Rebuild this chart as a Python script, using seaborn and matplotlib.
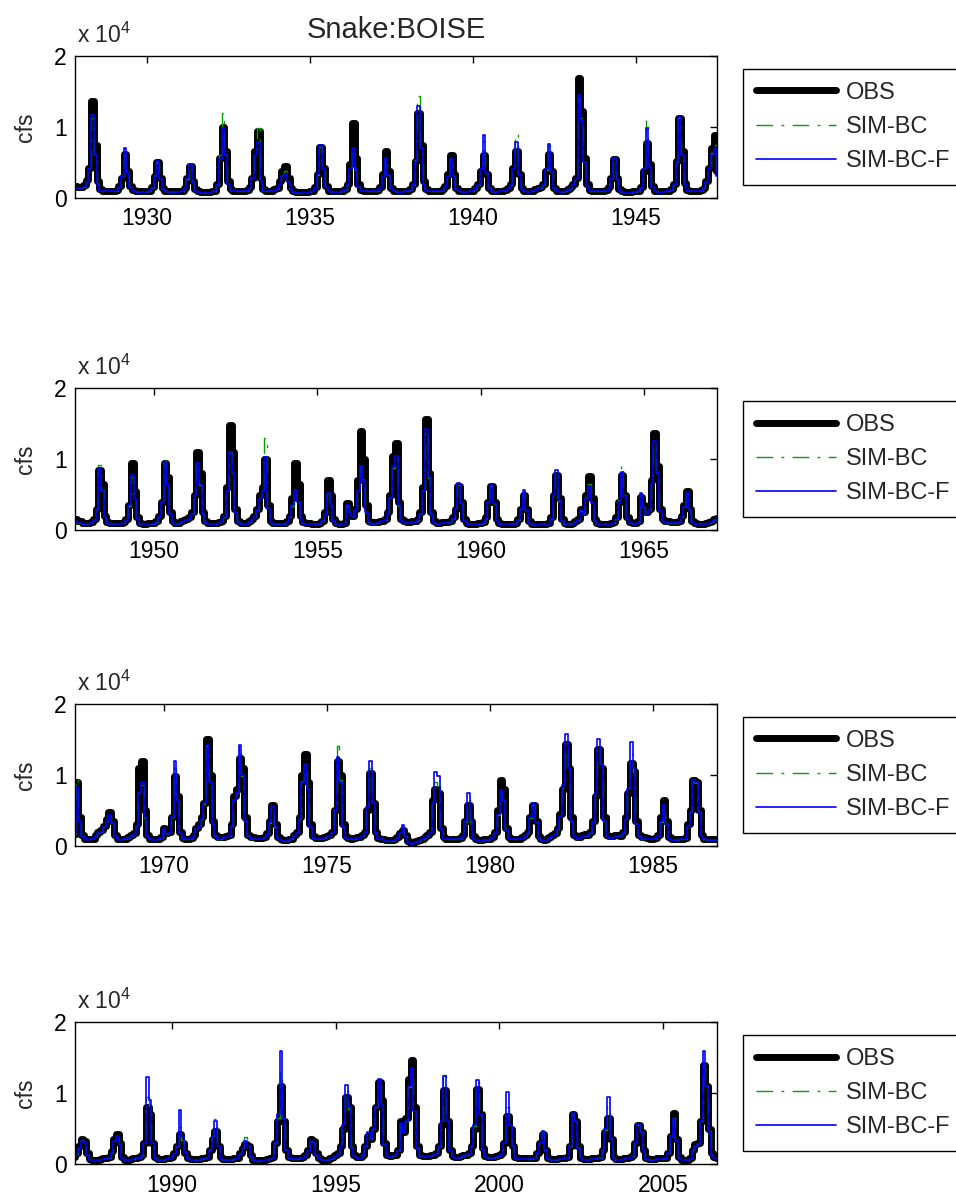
import numpy as np
import pandas as pd
import matplotlib
matplotlib.use("Agg")
import matplotlib.pyplot as plt
from matplotlib.ticker import MultipleLocator, FormatStrFormatter
import seaborn as sns

# Snake:BOISE monthly mean flow, water years 1928-2006 (Oct .. Sep), in 1000 cfs
water_years = list(range(1928, 2007))

obs = [
    [2.2, 1.6, 1.5, 1.5, 1.8, 2.5, 4.2, 13.6, 7.5, 2.4, 1.2, 1.0],   # 1928
    [1.0, 1.0, 1.0, 1.0, 1.1, 1.6, 2.8, 6.1, 3.8, 1.7, 1.1, 0.9],
    [0.9, 0.9, 0.9, 0.9, 1.0, 1.5, 3.0, 5.0, 2.8, 1.4, 1.0, 0.9],
    [0.9, 0.9, 0.9, 0.9, 1.0, 1.4, 2.8, 4.5, 2.4, 1.2, 0.9, 0.8],
    [0.8, 0.8, 0.8, 0.9, 1.0, 1.9, 5.6, 10.0, 6.6, 2.4, 1.2, 1.0],
    [1.0, 1.0, 1.0, 1.0, 1.1, 1.5, 2.8, 6.6, 9.4, 2.8, 1.2, 1.0],
    [1.0, 1.0, 1.2, 1.4, 2.4, 3.8, 4.5, 2.8, 1.4, 1.0, 0.8, 0.8],
    [0.8, 0.8, 0.8, 0.9, 1.0, 1.5, 3.3, 7.2, 4.2, 1.7, 1.0, 0.9],
    [0.9, 0.9, 0.9, 1.0, 1.2, 1.9, 4.7, 10.5, 5.6, 1.9, 1.1, 1.0],
    [1.0, 1.0, 1.0, 1.0, 1.1, 1.5, 3.3, 6.6, 3.8, 1.4, 1.0, 0.9],
    [0.9, 0.9, 1.0, 1.0, 1.2, 1.9, 5.2, 12.0, 7.5, 2.4, 1.2, 1.0],   # 1938
    [1.0, 1.0, 1.0, 1.0, 1.2, 1.7, 3.3, 6.0, 3.3, 1.4, 1.0, 0.9],
    [0.9, 0.9, 1.0, 1.0, 1.3, 1.9, 3.8, 6.0, 3.3, 1.4, 1.0, 0.9],
    [0.9, 1.0, 1.0, 1.1, 1.3, 1.9, 4.2, 6.6, 3.3, 1.4, 1.0, 0.9],
    [0.9, 1.0, 1.2, 1.4, 1.5, 1.9, 3.8, 6.1, 3.8, 1.4, 1.0, 0.9],
    [0.9, 1.0, 1.2, 1.5, 2.0, 2.8, 16.9, 12.2, 5.6, 1.9, 1.1, 1.0],
    [1.0, 1.0, 1.0, 1.0, 1.1, 1.5, 2.8, 5.4, 2.8, 1.2, 0.9, 0.8],
    [0.8, 0.8, 0.9, 0.9, 1.0, 1.5, 3.8, 7.7, 4.7, 1.7, 1.0, 0.9],
    [0.9, 0.9, 1.0, 1.0, 1.2, 1.9, 5.2, 11.3, 6.6, 2.1, 1.1, 1.0],
    [1.0, 1.0, 1.0, 1.1, 1.4, 2.4, 4.2, 7.0, 8.9, 3.8, 1.5, 1.2],
    [1.2, 1.0, 1.0, 1.0, 1.1, 1.5, 3.0, 8.5, 6.5, 2.0, 1.1, 1.0],    # 1948
    [1.0, 1.0, 1.0, 1.0, 1.1, 1.5, 3.5, 9.5, 5.5, 1.8, 1.0, 0.9],
    [0.9, 1.0, 1.0, 1.0, 1.2, 2.0, 4.0, 9.5, 7.5, 2.5, 1.2, 1.0],
    [1.0, 1.2, 1.4, 1.5, 1.8, 2.5, 5.0, 11.0, 8.0, 2.5, 1.2, 1.0],
    [1.0, 1.0, 1.0, 1.1, 1.3, 2.0, 6.0, 14.8, 11.0, 3.0, 1.3, 1.0],
    [1.0, 1.0, 1.2, 1.5, 2.0, 3.0, 5.0, 6.0, 10.0, 3.5, 1.3, 1.0],
    [1.0, 1.0, 1.0, 1.0, 1.2, 2.0, 4.5, 9.5, 6.5, 2.0, 1.1, 1.0],
    [1.0, 0.9, 0.9, 0.9, 1.0, 1.3, 2.5, 7.0, 5.0, 1.5, 1.0, 0.9],
    [0.9, 1.0, 3.8, 3.0, 2.0, 3.0, 7.0, 14.0, 10.0, 3.5, 1.3, 1.1],
    [1.1, 1.1, 1.2, 1.3, 1.5, 2.5, 5.0, 10.5, 12.3, 4.0, 1.5, 1.2],
    [1.1, 1.1, 1.2, 1.2, 1.5, 2.5, 6.0, 15.6, 8.0, 2.5, 1.2, 1.0],   # 1958
    [1.0, 1.1, 1.1, 1.1, 1.2, 1.8, 3.0, 6.2, 4.0, 1.5, 1.0, 0.9],
    [0.9, 0.9, 1.0, 1.0, 1.1, 1.8, 4.0, 6.2, 4.0, 1.5, 1.0, 0.9],
    [0.9, 0.9, 0.9, 0.9, 1.0, 1.5, 3.0, 5.0, 3.0, 1.2, 0.9, 0.8],
    [0.8, 0.9, 0.9, 0.9, 1.0, 1.8, 5.0, 7.8, 4.5, 1.5, 1.0, 0.9],
    [0.9, 1.0, 1.2, 1.5, 3.0, 2.5, 5.0, 7.6, 4.5, 1.5, 1.0, 0.9],
    [0.9, 0.9, 0.9, 1.0, 1.1, 1.8, 4.0, 7.8, 5.0, 1.8, 1.1, 1.0],
    [1.0, 1.2, 4.7, 3.5, 2.5, 3.0, 7.0, 13.7, 9.0, 3.0, 1.5, 1.2],
    [1.2, 1.1, 1.1, 1.1, 1.2, 2.0, 3.5, 5.5, 3.0, 1.3, 1.0, 0.9],
    [0.9, 0.9, 1.0, 1.1, 1.2, 1.5, 1.7, 9.0, 4.0, 1.5, 1.0, 0.9],
    [1.0, 1.0, 1.5, 2.0, 2.2, 2.8, 3.8, 4.7, 3.5, 1.5, 1.0, 0.9],    # 1968
    [1.0, 1.0, 1.2, 1.5, 1.8, 3.0, 11.0, 12.0, 5.0, 1.5, 1.0, 0.9],
    [0.9, 1.0, 1.2, 2.5, 1.8, 2.0, 4.0, 9.8, 7.0, 2.0, 1.1, 1.0],
    [1.0, 1.1, 1.5, 2.5, 3.0, 4.0, 6.0, 15.0, 10.0, 3.5, 1.5, 1.2],
    [1.2, 1.2, 1.3, 1.5, 3.0, 7.0, 8.0, 12.4, 11.0, 4.0, 1.5, 1.2],
    [1.2, 1.1, 1.1, 1.1, 1.2, 1.8, 3.5, 5.7, 3.0, 1.2, 0.9, 0.8],
    [0.8, 0.9, 1.0, 1.5, 2.0, 4.0, 10.0, 13.0, 9.0, 3.0, 1.3, 1.1],
    [1.1, 1.1, 1.2, 1.3, 1.5, 2.0, 5.0, 12.0, 10.0, 3.0, 1.3, 1.1],
    [1.0, 1.1, 1.2, 1.2, 1.5, 2.0, 5.0, 10.3, 6.0, 2.0, 1.1, 1.0],
    [0.9, 0.8, 0.8, 0.8, 0.9, 1.2, 1.8, 2.2, 1.5, 0.6, 0.4, 0.5],
    [0.6, 0.8, 1.0, 1.2, 1.5, 2.0, 6.5, 8.0, 7.5, 2.5, 1.2, 1.0],    # 1978
    [1.0, 1.0, 1.0, 1.0, 1.1, 1.5, 3.5, 5.8, 3.5, 1.3, 0.9, 0.8],
    [0.8, 0.9, 0.9, 1.0, 1.2, 2.0, 5.0, 9.3, 8.0, 2.5, 1.2, 1.0],
    [1.0, 1.0, 1.0, 1.2, 1.5, 2.0, 4.0, 5.7, 3.5, 1.3, 0.9, 0.8],
    [0.9, 1.2, 1.5, 1.8, 2.5, 4.5, 8.0, 14.3, 11.0, 4.0, 1.5, 1.2],
    [1.2, 1.5, 1.6, 1.5, 2.0, 3.5, 7.0, 13.6, 11.0, 4.0, 1.5, 1.3],
    [1.3, 1.5, 1.5, 1.4, 2.0, 4.0, 7.5, 11.7, 10.5, 3.5, 1.5, 1.2],
    [1.2, 1.1, 1.0, 1.0, 1.1, 1.5, 4.0, 6.5, 3.5, 1.2, 0.9, 0.9],
    [0.9, 1.0, 1.0, 1.1, 3.0, 5.0, 9.2, 9.0, 5.0, 1.5, 1.0, 0.9],
    [0.9, 0.9, 0.9, 1.0, 1.5, 2.5, 3.5, 3.3, 1.5, 0.7, 0.6, 0.6],
    [0.6, 0.7, 0.8, 0.9, 1.0, 1.8, 3.5, 4.2, 3.0, 1.0, 0.6, 0.6],    # 1988
    [0.7, 0.8, 0.9, 1.0, 1.2, 3.0, 8.0, 7.0, 3.0, 1.0, 0.7, 0.7],
    [0.7, 0.8, 0.9, 1.0, 1.5, 2.5, 4.2, 3.0, 1.5, 0.8, 0.7, 0.7],
    [0.7, 0.7, 0.8, 0.9, 1.0, 2.0, 3.5, 4.6, 2.5, 1.0, 0.7, 0.7],
    [0.7, 0.7, 0.8, 0.9, 1.5, 2.3, 2.8, 2.5, 1.2, 0.6, 0.5, 0.5],
    [0.5, 0.6, 0.7, 0.8, 1.0, 3.0, 6.0, 11.0, 6.0, 2.0, 1.0, 0.8],
    [0.8, 0.8, 0.9, 1.0, 1.2, 2.0, 3.5, 3.3, 1.5, 0.8, 0.6, 0.6],
    [0.6, 0.8, 1.0, 1.2, 1.5, 2.5, 5.0, 9.5, 8.0, 2.5, 1.2, 1.0],
    [1.0, 1.3, 2.5, 4.0, 3.5, 5.0, 8.0, 11.5, 9.0, 3.0, 1.3, 1.1],
    [1.2, 1.3, 2.0, 6.0, 4.5, 6.5, 12.0, 14.6, 8.0, 2.5, 1.3, 1.1],
    [1.1, 1.1, 1.2, 1.3, 1.5, 2.5, 5.5, 10.4, 6.0, 2.0, 1.1, 1.0],   # 1998
    [1.0, 1.1, 1.2, 1.3, 1.5, 2.5, 5.0, 10.6, 7.0, 2.2, 1.1, 1.0],
    [1.0, 1.0, 1.1, 1.2, 1.5, 3.0, 6.7, 5.0, 2.5, 1.0, 0.8, 0.8],
    [0.8, 0.8, 0.8, 0.8, 0.9, 1.5, 3.0, 4.2, 2.0, 0.8, 0.7, 0.7],
    [0.7, 0.8, 0.8, 0.9, 1.0, 2.5, 7.0, 6.0, 2.5, 0.9, 0.7, 0.7],
    [0.7, 0.8, 0.8, 0.9, 1.0, 2.0, 4.5, 6.5, 3.5, 1.0, 0.7, 0.7],
    [0.7, 0.8, 0.9, 1.0, 1.2, 3.0, 5.5, 4.5, 2.0, 0.8, 0.7, 0.7],
    [0.7, 0.8, 0.8, 0.8, 0.9, 1.5, 4.0, 7.2, 3.5, 1.0, 0.6, 0.5],
    [0.5, 0.8, 2.0, 2.8, 3.0, 6.0, 14.0, 11.0, 5.0, 1.5, 1.0, 0.9],  # 2006
]

sim_bc = [
    [1.8, 1.4, 1.3, 1.3, 1.5, 2.2, 4.0, 11.3, 6.0, 2.0, 1.0, 0.9],   # 1928
    [0.9, 0.9, 0.9, 0.9, 1.0, 1.5, 2.8, 6.1, 3.3, 1.5, 1.0, 0.8],
    [0.8, 0.8, 0.8, 0.8, 0.9, 1.4, 2.9, 5.0, 2.6, 1.2, 0.9, 0.8],
    [0.8, 0.8, 0.8, 0.8, 0.9, 1.3, 2.7, 4.5, 2.2, 1.0, 0.8, 0.7],
    [0.7, 0.7, 0.7, 0.8, 0.9, 1.8, 6.0, 11.9, 6.5, 2.0, 1.0, 0.9],
    [0.9, 0.9, 0.9, 0.9, 1.0, 1.4, 2.8, 6.8, 9.9, 2.6, 1.0, 0.9],
    [0.9, 0.9, 1.0, 1.2, 2.1, 3.2, 3.8, 2.4, 1.2, 0.8, 0.7, 0.7],
    [0.7, 0.7, 0.7, 0.8, 0.9, 1.4, 3.2, 7.2, 3.9, 1.5, 0.9, 0.8],
    [0.8, 0.8, 0.8, 0.9, 1.1, 1.8, 3.9, 6.8, 3.9, 1.5, 1.0, 0.9],
    [0.9, 0.9, 0.9, 0.9, 1.0, 1.4, 3.0, 5.6, 3.2, 1.2, 0.9, 0.8],
    [0.8, 0.8, 0.9, 0.9, 1.1, 1.8, 5.3, 14.3, 7.2, 2.0, 1.0, 0.9],   # 1938
    [0.9, 0.9, 0.9, 0.9, 1.1, 1.6, 3.1, 5.6, 3.0, 1.2, 0.9, 0.8],
    [0.8, 0.8, 0.9, 0.9, 1.2, 1.8, 3.8, 8.0, 3.4, 1.3, 0.9, 0.8],
    [0.8, 0.9, 0.9, 1.0, 1.2, 1.8, 4.3, 9.0, 3.4, 1.2, 0.9, 0.8],
    [0.8, 0.9, 1.1, 1.3, 1.4, 1.8, 3.9, 7.3, 3.7, 1.3, 0.9, 0.8],
    [0.8, 0.9, 1.1, 1.4, 1.8, 2.6, 14.1, 11.2, 5.0, 1.7, 1.0, 0.9],
    [0.9, 0.9, 0.9, 0.9, 1.0, 1.4, 2.8, 5.6, 2.6, 1.1, 0.8, 0.7],
    [0.7, 0.7, 0.8, 0.8, 0.9, 1.4, 4.2, 10.9, 4.6, 1.5, 0.9, 0.8],
    [0.8, 0.8, 0.9, 0.9, 1.1, 1.8, 5.0, 11.3, 6.1, 1.9, 1.0, 0.9],
    [0.9, 0.9, 0.9, 1.0, 1.3, 2.2, 4.0, 6.3, 7.5, 3.1, 1.3, 1.0],
    [1.0, 0.9, 0.9, 0.9, 1.0, 1.4, 3.0, 9.2, 5.6, 1.8, 1.0, 0.9],    # 1948
    [0.9, 0.9, 0.9, 0.9, 1.0, 1.4, 3.4, 7.5, 4.4, 1.6, 0.9, 0.8],
    [0.8, 0.9, 0.9, 0.9, 1.1, 1.8, 4.1, 9.8, 6.6, 2.2, 1.0, 0.9],
    [0.9, 1.1, 1.3, 1.4, 1.6, 2.3, 5.0, 9.5, 6.4, 2.2, 1.0, 0.9],
    [0.9, 0.9, 0.9, 1.0, 1.2, 1.8, 5.4, 11.0, 8.1, 2.5, 1.1, 0.9],
    [0.9, 0.9, 1.1, 1.4, 1.8, 2.8, 4.6, 5.8, 13.0, 3.1, 1.1, 0.9],
    [0.9, 0.9, 0.9, 0.9, 1.1, 1.8, 3.4, 5.5, 4.1, 1.5, 0.9, 0.8],
    [0.8, 0.8, 0.8, 0.8, 0.9, 1.2, 2.1, 5.2, 3.4, 1.2, 0.8, 0.7],
    [0.8, 0.9, 3.4, 2.6, 1.8, 2.7, 5.4, 9.0, 7.2, 2.5, 1.1, 0.9],
    [0.9, 1.0, 1.1, 1.2, 1.4, 2.2, 4.6, 8.8, 10.0, 3.4, 1.3, 1.0],
    [1.0, 1.0, 1.1, 1.1, 1.4, 2.3, 5.6, 14.0, 7.3, 2.2, 1.0, 0.9],   # 1958
    [0.9, 1.0, 1.0, 1.0, 1.1, 1.6, 2.9, 6.3, 3.7, 1.3, 0.9, 0.8],
    [0.8, 0.8, 0.9, 0.9, 1.0, 1.6, 3.9, 6.2, 3.7, 1.3, 0.9, 0.8],
    [0.8, 0.8, 0.8, 0.8, 0.9, 1.4, 2.9, 5.2, 2.7, 1.0, 0.8, 0.7],
    [0.7, 0.8, 0.8, 0.8, 0.9, 1.6, 5.1, 8.3, 4.1, 1.3, 0.9, 0.8],
    [0.8, 0.9, 1.1, 1.4, 2.7, 2.3, 4.7, 6.5, 3.9, 1.3, 0.9, 0.8],
    [0.8, 0.8, 0.8, 0.9, 1.0, 1.6, 4.2, 9.2, 4.9, 1.6, 1.0, 0.9],
    [0.9, 1.1, 5.0, 3.3, 2.3, 2.8, 6.6, 12.0, 8.1, 2.7, 1.3, 1.0],
    [1.0, 1.0, 1.0, 1.0, 1.1, 1.8, 3.3, 5.2, 2.8, 1.1, 0.9, 0.8],
    [0.8, 0.8, 0.9, 1.0, 1.1, 1.4, 1.7, 9.5, 3.7, 1.3, 0.9, 0.8],
    [0.9, 0.9, 1.4, 1.8, 2.0, 2.6, 3.5, 4.3, 3.2, 1.3, 0.9, 0.8],    # 1968
    [0.9, 0.9, 1.1, 1.4, 1.6, 2.8, 7.4, 8.5, 3.9, 1.3, 0.9, 0.8],
    [0.8, 0.9, 1.1, 2.3, 1.6, 1.8, 4.0, 11.5, 6.4, 1.8, 1.0, 0.9],
    [0.9, 1.0, 1.4, 2.3, 2.8, 3.8, 5.9, 14.0, 8.8, 3.0, 1.3, 1.0],
    [1.0, 1.1, 1.2, 1.4, 2.8, 6.4, 7.4, 14.0, 9.9, 3.5, 1.3, 1.0],
    [1.0, 1.0, 1.0, 1.0, 1.1, 1.6, 3.2, 5.3, 2.7, 1.0, 0.8, 0.7],
    [0.7, 0.8, 0.9, 1.4, 1.8, 3.8, 9.1, 11.5, 8.0, 2.7, 1.1, 0.9],
    [1.0, 1.0, 1.1, 1.2, 1.4, 1.8, 5.2, 14.0, 9.3, 2.7, 1.1, 1.0],
    [0.9, 1.0, 1.1, 1.1, 1.4, 1.8, 5.3, 11.0, 5.8, 1.8, 1.0, 0.9],
    [0.8, 0.7, 0.7, 0.7, 0.8, 1.1, 1.7, 2.5, 1.4, 0.5, 0.3, 0.4],
    [0.5, 0.7, 0.9, 1.1, 1.4, 1.8, 6.0, 9.0, 8.4, 2.3, 1.0, 0.9],    # 1978
    [0.9, 0.9, 0.9, 0.9, 1.0, 1.4, 3.4, 6.5, 3.4, 1.1, 0.8, 0.7],
    [0.7, 0.8, 0.8, 0.9, 1.1, 1.8, 4.4, 7.5, 6.4, 2.2, 1.0, 0.9],
    [0.9, 0.9, 0.9, 1.1, 1.4, 1.8, 3.9, 5.8, 3.3, 1.1, 0.8, 0.7],
    [0.8, 1.1, 1.4, 1.6, 2.3, 4.2, 8.1, 14.5, 10.6, 3.5, 1.3, 1.0],
    [1.0, 1.3, 1.4, 1.4, 1.8, 3.3, 7.2, 14.0, 11.0, 3.5, 1.3, 1.1],
    [1.1, 1.3, 1.4, 1.3, 1.8, 3.8, 7.6, 13.0, 10.4, 3.0, 1.3, 1.0],
    [1.0, 1.0, 0.9, 0.9, 1.0, 1.4, 3.4, 5.5, 3.0, 1.0, 0.8, 0.8],
    [0.8, 0.9, 0.9, 1.0, 2.8, 4.7, 9.0, 8.8, 4.7, 1.3, 0.9, 0.8],
    [0.8, 0.8, 0.8, 0.9, 1.4, 2.3, 3.4, 3.1, 1.3, 0.6, 0.5, 0.5],
    [0.5, 0.6, 0.7, 0.8, 0.9, 1.6, 3.3, 4.0, 2.8, 0.9, 0.5, 0.5],    # 1988
    [0.6, 0.7, 0.8, 0.9, 1.1, 3.0, 9.4, 7.8, 3.0, 0.9, 0.6, 0.6],
    [0.6, 0.7, 0.8, 0.9, 1.4, 2.5, 5.2, 3.4, 1.5, 0.7, 0.6, 0.6],
    [0.6, 0.6, 0.7, 0.8, 0.9, 2.0, 4.0, 6.4, 2.5, 0.9, 0.6, 0.6],
    [0.6, 0.6, 0.7, 0.8, 1.4, 2.3, 3.8, 2.6, 1.1, 0.5, 0.4, 0.4],
    [0.4, 0.5, 0.6, 0.7, 0.9, 3.0, 6.5, 13.0, 6.5, 2.0, 0.9, 0.7],
    [0.7, 0.7, 0.8, 0.9, 1.1, 1.8, 3.3, 3.1, 1.3, 0.7, 0.5, 0.5],
    [0.5, 0.7, 0.9, 1.1, 1.4, 2.5, 5.2, 10.5, 7.8, 2.3, 1.1, 0.9],
    [0.9, 1.2, 2.5, 4.3, 3.5, 5.0, 8.0, 11.5, 8.5, 2.7, 1.1, 1.0],
    [1.1, 1.2, 1.8, 5.9, 4.3, 6.0, 10.8, 13.0, 7.5, 2.2, 1.1, 1.0],
    [1.0, 1.0, 1.1, 1.2, 1.4, 2.5, 6.0, 12.5, 6.0, 1.8, 1.0, 0.9],   # 1998
    [0.9, 1.0, 1.1, 1.2, 1.4, 2.5, 5.3, 11.5, 7.0, 2.0, 1.0, 0.9],
    [0.9, 0.9, 1.0, 1.1, 1.4, 3.0, 8.0, 5.3, 2.5, 0.9, 0.7, 0.7],
    [0.7, 0.7, 0.7, 0.7, 0.8, 1.5, 3.0, 4.5, 2.0, 0.7, 0.6, 0.6],
    [0.6, 0.7, 0.7, 0.8, 0.9, 2.5, 7.0, 6.0, 2.3, 0.8, 0.6, 0.6],
    [0.6, 0.7, 0.7, 0.8, 0.9, 2.0, 4.8, 8.0, 3.5, 0.9, 0.6, 0.6],
    [0.6, 0.7, 0.8, 0.9, 1.1, 3.0, 5.5, 4.5, 1.8, 0.7, 0.6, 0.6],
    [0.6, 0.7, 0.7, 0.7, 0.8, 1.5, 4.0, 6.5, 3.3, 0.9, 0.5, 0.5],
    [0.5, 0.7, 2.0, 2.6, 2.8, 6.0, 14.5, 11.0, 4.6, 1.3, 0.9, 0.8],  # 2006
]

sim_bcf = [
    [1.8, 1.4, 1.3, 1.3, 1.5, 2.2, 4.0, 11.7, 6.0, 2.0, 1.0, 0.9],   # 1928
    [0.9, 0.9, 0.9, 0.9, 1.0, 1.5, 3.0, 7.0, 3.5, 1.5, 1.0, 0.8],
    [0.8, 0.8, 0.8, 0.8, 0.9, 1.4, 3.0, 5.2, 2.6, 1.2, 0.9, 0.8],
    [0.8, 0.8, 0.8, 0.8, 0.9, 1.3, 2.8, 4.7, 2.2, 1.0, 0.8, 0.7],
    [0.7, 0.7, 0.7, 0.8, 0.9, 1.8, 5.5, 9.9, 6.0, 2.0, 1.0, 0.9],
    [0.9, 0.9, 0.9, 0.9, 1.0, 1.4, 2.8, 6.0, 7.8, 2.4, 1.0, 0.9],
    [0.9, 0.9, 1.0, 1.2, 2.0, 3.0, 3.3, 2.2, 1.2, 0.8, 0.7, 0.7],
    [0.7, 0.7, 0.7, 0.8, 0.9, 1.4, 3.3, 7.5, 4.0, 1.5, 0.9, 0.8],
    [0.8, 0.8, 0.8, 0.9, 1.1, 1.8, 4.0, 7.0, 4.0, 1.5, 1.0, 0.9],
    [0.9, 0.9, 0.9, 0.9, 1.0, 1.4, 3.0, 5.6, 3.2, 1.2, 0.9, 0.8],
    [0.8, 0.8, 0.9, 0.9, 1.1, 1.8, 5.0, 13.0, 7.0, 2.0, 1.0, 0.9],   # 1938
    [0.9, 0.9, 0.9, 0.9, 1.1, 1.6, 3.0, 5.4, 3.0, 1.2, 0.9, 0.8],
    [0.8, 0.8, 0.9, 0.9, 1.2, 1.8, 4.0, 8.9, 3.5, 1.3, 0.9, 0.8],
    [0.8, 0.9, 0.9, 1.0, 1.2, 1.8, 4.0, 7.9, 3.2, 1.2, 0.9, 0.8],
    [0.8, 0.9, 1.1, 1.3, 1.4, 1.8, 4.0, 7.6, 3.8, 1.3, 0.9, 0.8],
    [0.8, 0.9, 1.1, 1.4, 1.8, 2.6, 14.5, 11.0, 5.0, 1.7, 1.0, 0.9],
    [0.9, 0.9, 0.9, 0.9, 1.0, 1.4, 2.8, 5.6, 2.6, 1.1, 0.8, 0.7],
    [0.7, 0.7, 0.8, 0.8, 0.9, 1.4, 4.0, 9.8, 4.5, 1.5, 0.9, 0.8],
    [0.8, 0.8, 0.9, 0.9, 1.1, 1.8, 5.0, 11.4, 6.0, 1.9, 1.0, 0.9],
    [0.9, 0.9, 0.9, 1.0, 1.3, 2.2, 4.0, 6.0, 7.0, 3.0, 1.3, 1.0],
    [1.0, 0.9, 0.9, 0.9, 1.0, 1.4, 3.0, 8.7, 5.5, 1.8, 1.0, 0.9],    # 1948
    [0.9, 0.9, 0.9, 0.9, 1.0, 1.4, 3.5, 7.8, 4.5, 1.6, 0.9, 0.8],
    [0.8, 0.9, 0.9, 0.9, 1.1, 1.8, 4.0, 9.6, 6.5, 2.2, 1.0, 0.9],
    [0.9, 1.1, 1.3, 1.4, 1.6, 2.3, 5.0, 9.5, 6.5, 2.2, 1.0, 0.9],
    [0.9, 0.9, 0.9, 1.0, 1.2, 1.8, 5.5, 11.0, 8.0, 2.5, 1.1, 0.9],
    [0.9, 0.9, 1.1, 1.4, 1.8, 2.8, 4.5, 5.5, 10.3, 3.0, 1.1, 0.9],
    [0.9, 0.9, 0.9, 0.9, 1.1, 1.8, 3.5, 5.6, 4.0, 1.5, 0.9, 0.8],
    [0.8, 0.8, 0.8, 0.8, 0.9, 1.2, 2.2, 5.2, 3.5, 1.2, 0.8, 0.7],
    [0.8, 0.9, 3.5, 2.5, 1.8, 2.8, 5.5, 9.0, 7.0, 2.5, 1.1, 0.9],
    [0.9, 1.0, 1.1, 1.2, 1.4, 2.2, 4.5, 9.0, 10.5, 3.5, 1.3, 1.0],
    [1.0, 1.0, 1.1, 1.1, 1.4, 2.3, 5.5, 14.3, 7.5, 2.2, 1.0, 0.9],   # 1958
    [0.9, 1.0, 1.0, 1.0, 1.1, 1.6, 3.0, 6.6, 3.8, 1.3, 0.9, 0.8],
    [0.8, 0.8, 0.9, 0.9, 1.0, 1.6, 4.0, 6.3, 3.8, 1.3, 0.9, 0.8],
    [0.8, 0.8, 0.8, 0.8, 0.9, 1.4, 3.0, 5.6, 2.8, 1.0, 0.8, 0.7],
    [0.7, 0.8, 0.8, 0.8, 0.9, 1.6, 5.0, 8.5, 4.2, 1.3, 0.9, 0.8],
    [0.8, 0.9, 1.1, 1.4, 2.8, 2.3, 4.5, 6.2, 3.8, 1.3, 0.9, 0.8],
    [0.8, 0.8, 0.8, 0.9, 1.0, 1.6, 4.0, 8.2, 4.8, 1.6, 1.0, 0.9],
    [0.9, 1.1, 5.2, 3.2, 2.3, 2.8, 6.5, 12.5, 8.0, 2.7, 1.3, 1.0],
    [1.0, 1.0, 1.0, 1.0, 1.1, 1.8, 3.3, 5.2, 2.8, 1.1, 0.9, 0.8],
    [0.8, 0.8, 0.9, 1.0, 1.1, 1.4, 1.7, 8.3, 3.5, 1.3, 0.9, 0.8],
    [0.9, 0.9, 1.4, 1.8, 2.0, 2.6, 3.5, 4.3, 3.2, 1.3, 0.9, 0.8],    # 1968
    [0.9, 0.9, 1.1, 1.4, 1.6, 2.8, 7.5, 9.0, 4.0, 1.3, 0.9, 0.8],
    [0.8, 0.9, 1.1, 2.3, 1.6, 1.8, 4.0, 12.0, 6.5, 1.8, 1.0, 0.9],
    [0.9, 1.0, 1.4, 2.3, 2.8, 3.8, 6.0, 14.2, 9.0, 3.0, 1.3, 1.0],
    [1.0, 1.1, 1.2, 1.4, 2.8, 6.5, 7.5, 14.2, 10.0, 3.5, 1.3, 1.0],
    [1.0, 1.0, 1.0, 1.0, 1.1, 1.6, 3.3, 5.5, 2.8, 1.0, 0.8, 0.7],
    [0.7, 0.8, 0.9, 1.4, 1.8, 3.8, 9.0, 11.4, 8.0, 2.7, 1.1, 0.9],
    [1.0, 1.0, 1.1, 1.2, 1.4, 1.8, 5.0, 12.5, 9.0, 2.7, 1.1, 1.0],
    [0.9, 1.0, 1.1, 1.1, 1.4, 1.8, 5.5, 12.0, 6.0, 1.8, 1.0, 0.9],
    [0.8, 0.7, 0.7, 0.7, 0.8, 1.1, 1.8, 2.9, 1.4, 0.5, 0.3, 0.4],
    [0.5, 0.7, 0.9, 1.1, 1.4, 1.8, 6.0, 10.4, 9.8, 2.3, 1.0, 0.9],   # 1978
    [0.9, 0.9, 0.9, 0.9, 1.0, 1.4, 3.5, 7.4, 3.5, 1.1, 0.8, 0.7],
    [0.7, 0.8, 0.8, 0.9, 1.1, 1.8, 4.5, 7.8, 6.5, 2.2, 1.0, 0.9],
    [0.9, 0.9, 0.9, 1.1, 1.4, 1.8, 4.0, 6.0, 3.3, 1.1, 0.8, 0.7],
    [0.8, 1.1, 1.4, 1.6, 2.3, 4.2, 8.5, 15.8, 11.0, 3.5, 1.3, 1.0],
    [1.0, 1.3, 1.4, 1.4, 1.8, 3.3, 7.5, 15.0, 11.5, 3.5, 1.3, 1.1],
    [1.1, 1.3, 1.4, 1.3, 1.8, 3.8, 8.0, 14.6, 11.0, 3.0, 1.3, 1.0],
    [1.0, 1.0, 0.9, 0.9, 1.0, 1.4, 3.5, 5.7, 3.0, 1.0, 0.8, 0.8],
    [0.8, 0.9, 0.9, 1.0, 2.8, 4.8, 9.3, 9.0, 4.8, 1.3, 0.9, 0.8],
    [0.8, 0.8, 0.8, 0.9, 1.4, 2.3, 3.3, 3.1, 1.3, 0.6, 0.5, 0.5],
    [0.5, 0.6, 0.7, 0.8, 0.9, 1.6, 3.3, 4.0, 2.8, 0.9, 0.5, 0.5],    # 1988
    [0.6, 0.7, 0.8, 0.9, 1.1, 3.0, 12.2, 9.0, 3.0, 0.9, 0.6, 0.6],
    [0.6, 0.7, 0.8, 0.9, 1.4, 2.5, 7.6, 4.0, 1.5, 0.7, 0.6, 0.6],
    [0.6, 0.6, 0.7, 0.8, 0.9, 2.0, 4.0, 6.1, 2.5, 0.9, 0.6, 0.6],
    [0.6, 0.6, 0.7, 0.8, 1.4, 2.3, 3.2, 2.5, 1.1, 0.5, 0.4, 0.4],
    [0.4, 0.5, 0.6, 0.7, 0.9, 3.0, 7.0, 16.0, 6.5, 2.0, 0.9, 0.7],
    [0.7, 0.7, 0.8, 0.9, 1.1, 1.8, 3.3, 3.1, 1.3, 0.7, 0.5, 0.5],
    [0.5, 0.7, 0.9, 1.1, 1.4, 2.5, 5.5, 11.2, 8.0, 2.3, 1.1, 0.9],
    [0.9, 1.2, 2.5, 4.5, 3.5, 5.0, 8.0, 12.0, 8.5, 2.7, 1.1, 1.0],
    [1.1, 1.2, 1.8, 5.8, 4.3, 6.0, 11.0, 13.6, 7.5, 2.2, 1.1, 1.0],
    [1.0, 1.0, 1.1, 1.2, 1.4, 2.5, 6.0, 12.4, 6.0, 1.8, 1.0, 0.9],   # 1998
    [0.9, 1.0, 1.1, 1.2, 1.4, 2.5, 5.5, 11.8, 7.0, 2.0, 1.0, 0.9],
    [0.9, 0.9, 1.0, 1.1, 1.4, 3.0, 10.1, 5.5, 2.5, 0.9, 0.7, 0.7],
    [0.7, 0.7, 0.7, 0.7, 0.8, 1.5, 3.0, 4.7, 2.0, 0.7, 0.6, 0.6],
    [0.6, 0.7, 0.7, 0.8, 0.9, 2.5, 7.2, 6.0, 2.3, 0.8, 0.6, 0.6],
    [0.6, 0.7, 0.7, 0.8, 0.9, 2.0, 5.0, 9.5, 3.5, 0.9, 0.6, 0.6],
    [0.6, 0.7, 0.8, 0.9, 1.1, 3.0, 5.7, 4.5, 1.8, 0.7, 0.6, 0.6],
    [0.6, 0.7, 0.7, 0.7, 0.8, 1.5, 4.0, 6.4, 3.3, 0.9, 0.5, 0.5],
    [0.5, 0.7, 2.0, 2.6, 2.8, 6.0, 16.0, 11.0, 4.5, 1.3, 0.9, 0.8],  # 2006
]

series_names = ["OBS", "SIM-BC", "SIM-BC-F"]
panel_years = [(1927.80, 1947.48), (1947.58, 1967.24), (1967.27, 1986.96), (1987.04, 2006.65)]

# long table: one row per month, water year starts in October of the previous year
records = []
for name, table in zip(series_names, [obs, sim_bc, sim_bcf]):
    for wy, months in zip(water_years, table):
        for i, v in enumerate(months):
            records.append((wy - 1 + (9 + i) / 12.0, v * 1000.0, name))
df = pd.DataFrame(records, columns=["time", "flow", "series"])

sns.set_style("white")
plt.rcParams["font.family"] = ["Liberation Sans", "DejaVu Sans"]
plt.rcParams["mathtext.default"] = "regular"

line_styles = {
    "OBS": dict(color="black", linewidth=5.0, linestyle="-"),
    "SIM-BC": dict(color="#00a000", linewidth=1.0, linestyle=(0, (12, 6, 2, 6))),
    "SIM-BC-F": dict(color="#0000ff", linewidth=1.2, linestyle="-"),
}

fig = plt.figure(figsize=(9.56, 11.96), dpi=100)
bottoms = [0.8347, 0.5569, 0.2929, 0.0268]
fs = 16.5
half_month = 1 / 24.0

for k, (b, (x0, x1)) in enumerate(zip(bottoms, panel_years)):
    ax = fig.add_axes([0.0785, b, 0.6715, 0.1185])
    # each panel shows its own chunk of the record
    chunk = df[(df["time"] >= x0 - half_month) & (df["time"] <= x1 + half_month)]
    for name in series_names:
        sns.lineplot(data=chunk[chunk["series"] == name], x="time", y="flow", ax=ax,
                     estimator=None, sort=False, label=name, drawstyle="steps-mid",
                     **line_styles[name])

    ax.set_xlim(x0, x1)
    ax.set_ylim(0, 20000)
    ax.set_yticks([0, 10000, 20000])
    ax.set_yticklabels(["0", "1", "2"])
    ax.xaxis.set_major_locator(MultipleLocator(5))
    ax.xaxis.set_major_formatter(FormatStrFormatter("%d"))
    ax.tick_params(direction="in", top=True, right=True, length=5, width=1,
                   labelsize=fs, colors="black")
    ax.tick_params(axis="x", pad=7)
    ax.tick_params(axis="y", pad=6)
    for sp in ax.spines.values():
        sp.set_visible(True)
        sp.set_color("black")
        sp.set_linewidth(1.0)
    ax.set_xlabel("")
    ax.set_ylabel("cfs", fontsize=fs, labelpad=12)
    ax.annotate("x 10$^{4}$", xy=(0, 1), xycoords="axes fraction",
                xytext=(1.5, 9.5), textcoords="offset points",
                fontsize=fs, ha="left", va="baseline")
    if k == 0:
        ax.set_title("Snake:BOISE", fontsize=21, pad=13)

    leg = ax.legend(loc="center left", bbox_to_anchor=(1.0405, 0.5), frameon=True,
                    fancybox=False, shadow=False, framealpha=1, edgecolor="black",
                    fontsize=17, handlelength=3.4, handletextpad=0.4,
                    labelspacing=0.52, borderpad=0.55, borderaxespad=0)
    leg.get_frame().set_linewidth(1.0)

fig.savefig("out.png", dpi=100)
